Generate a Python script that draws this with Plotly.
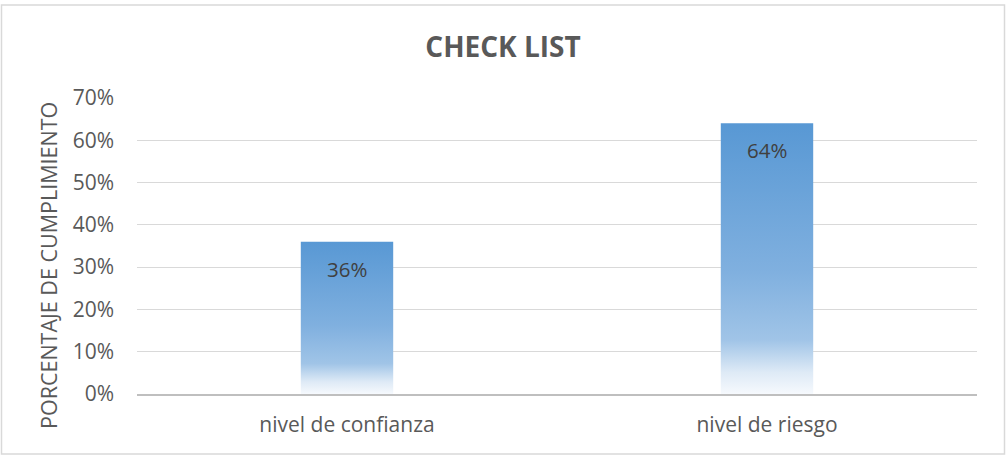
import plotly.graph_objects as go

categories = ["nivel de confianza", "nivel de riesgo"]
values = [0.36, 0.64]
value_labels = ["36%", "64%"]
tick_vals = [0, 0.1, 0.2, 0.3, 0.4, 0.5, 0.6, 0.7]
tick_text = ["0%", "10%", "20%", "30%", "40%", "50%", "60%", "70%"]

W, H = 1006, 457
L, R, T, B = 137, 29, 98, 63
pw, ph = W - L - R, H - T - B
FONT = "Open Sans"
GREY = "#595959"
bar_w = 0.22

gradient = dict(
    type="vertical",
    colorscale=[
        [0.0, "rgb(246,249,253)"],
        [0.08, "rgb(222,234,246)"],
        [0.2, "rgb(160,196,231)"],
        [0.45, "rgb(128,176,223)"],
        [1.0, "rgb(88,152,212)"],
    ],
)

fig = go.Figure()
for i, (cat, v) in enumerate(zip(categories, values)):
    x0, x1 = i - bar_w / 2, i + bar_w / 2
    fig.add_trace(go.Scatter(
        x=[x0, x1, x1, x0, x0], y=[0, 0, v, v, 0],
        mode="lines", line=dict(width=0), fill="toself",
        fillgradient=gradient, fillcolor="rgb(91,155,213)",
        name=cat, showlegend=False, hoverinfo="skip",
    ))
    fig.add_annotation(x=i, y=v, text=value_labels[i], showarrow=False,
                       yanchor="top", yshift=-11,
                       font=dict(family=FONT, size=20.5, color="#404040"))

fig.update_layout(
    width=W, height=H,
    margin=dict(l=L, r=R, t=T, b=B),
    paper_bgcolor="white", plot_bgcolor="white",
    showlegend=False,
    title=dict(text="<b>CHECK LIST</b>", x=0.5, xanchor="center",
               y=1 - 47 / H, yanchor="middle", yref="container",
               font=dict(family=FONT, size=28, color=GREY)),
    xaxis=dict(range=[-0.5, 1.5], tickvals=[0, 1], ticktext=categories,
               showgrid=False, zeroline=False, showline=True,
               linecolor="#BFBFBF", linewidth=1.5,
               tickfont=dict(family=FONT, size=21, color=GREY),
               ticks="outside", ticklen=11, tickcolor="white"),
    yaxis=dict(range=[0, 0.7], tickvals=tick_vals, ticktext=tick_text,
               showgrid=True, gridcolor="#D9D9D9", gridwidth=1,
               zeroline=False, showline=False,
               tickfont=dict(family=FONT, size=21, color=GREY),
               ticklabelstandoff=22),
)

fig.add_annotation(xref="paper", yref="paper", x=(48 - L) / pw, y=(H - B - 266) / ph,
                   text="PORCENTAJE DE CUMPLIMIENTO", textangle=-90, showarrow=False,
                   xanchor="center", yanchor="middle",
                   font=dict(family=FONT, size=21.5, color=GREY))

fig.add_shape(type="rect", xref="paper", yref="paper",
              x0=(1.5 - L) / pw, x1=(1004.5 - L) / pw,
              y0=(H - B - 454) / ph, y1=(H - B - 5) / ph,
              line=dict(color="#D9D9D9", width=1.5), fillcolor="rgba(0,0,0,0)",
              layer="below")

fig.write_html("out.html", config={"displayModeBar": False},
               post_script="document.body.style.margin='0';document.body.style.overflow='hidden';")
